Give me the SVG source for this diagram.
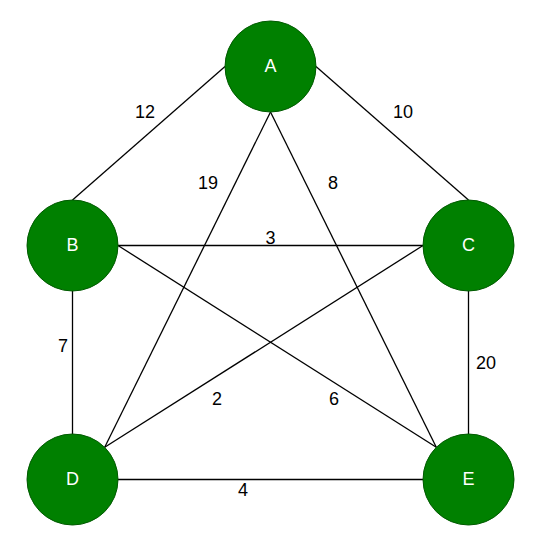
<svg xmlns="http://www.w3.org/2000/svg" width="538" height="551" viewBox="0 0 538 551">
<style>
.n{fill:#008000;stroke:#005a00;stroke-width:1}
.nl{fill:#ffffff;font-family:"Liberation Sans",Arial,sans-serif;font-size:18px;text-anchor:middle;dominant-baseline:central}
.e{stroke:#000;stroke-width:1.3;fill:none}
.el{fill:#000;font-family:"Liberation Sans",Arial,sans-serif;font-size:18px;text-anchor:middle;dominant-baseline:central}
</style>
<rect width="538" height="551" fill="#fff"/>
<g id="connectors">
<line class="e" x1="225" y1="66.5" x2="72.5" y2="200"/>
<line class="e" x1="316" y1="66.5" x2="468.5" y2="200"/>
<line class="e" x1="270.5" y1="112" x2="104.7" y2="447.3"/>
<line class="e" x1="270.5" y1="112" x2="436.3" y2="447.3"/>
<line class="e" x1="118" y1="245.5" x2="423" y2="245.5"/>
<line class="e" x1="118" y1="245.5" x2="436.3" y2="447.3"/>
<line class="e" x1="72.5" y1="291" x2="72.5" y2="434"/>
<line class="e" x1="423" y1="245.5" x2="104.7" y2="447.3"/>
<line class="e" x1="468.5" y1="291" x2="468.5" y2="434"/>
<line class="e" x1="118" y1="479.5" x2="423" y2="479.5"/>
<text class="el" x="145" y="112">12</text>
<text class="el" x="403" y="112">10</text>
<text class="el" x="208" y="183">19</text>
<text class="el" x="333" y="183">8</text>
<text class="el" x="270.5" y="237.5">3</text>
<text class="el" x="63" y="346">7</text>
<text class="el" x="486" y="363">20</text>
<text class="el" x="217" y="399">2</text>
<text class="el" x="334" y="399">6</text>
<text class="el" x="243" y="490">4</text>
</g>
<g id="A"><circle class="n" cx="270.5" cy="66.5" r="45.5"/><text class="nl" x="270.5" y="66">A</text></g>
<g id="B"><circle class="n" cx="72.5" cy="245.5" r="45.5"/><text class="nl" x="72.5" y="245">B</text></g>
<g id="C"><circle class="n" cx="468.5" cy="245.5" r="45.5"/><text class="nl" x="468.5" y="245">C</text></g>
<g id="D"><circle class="n" cx="72.5" cy="479.5" r="45.5"/><text class="nl" x="72.5" y="479">D</text></g>
<g id="E"><circle class="n" cx="468.5" cy="479.5" r="45.5"/><text class="nl" x="468.5" y="479">E</text></g>
</svg>
